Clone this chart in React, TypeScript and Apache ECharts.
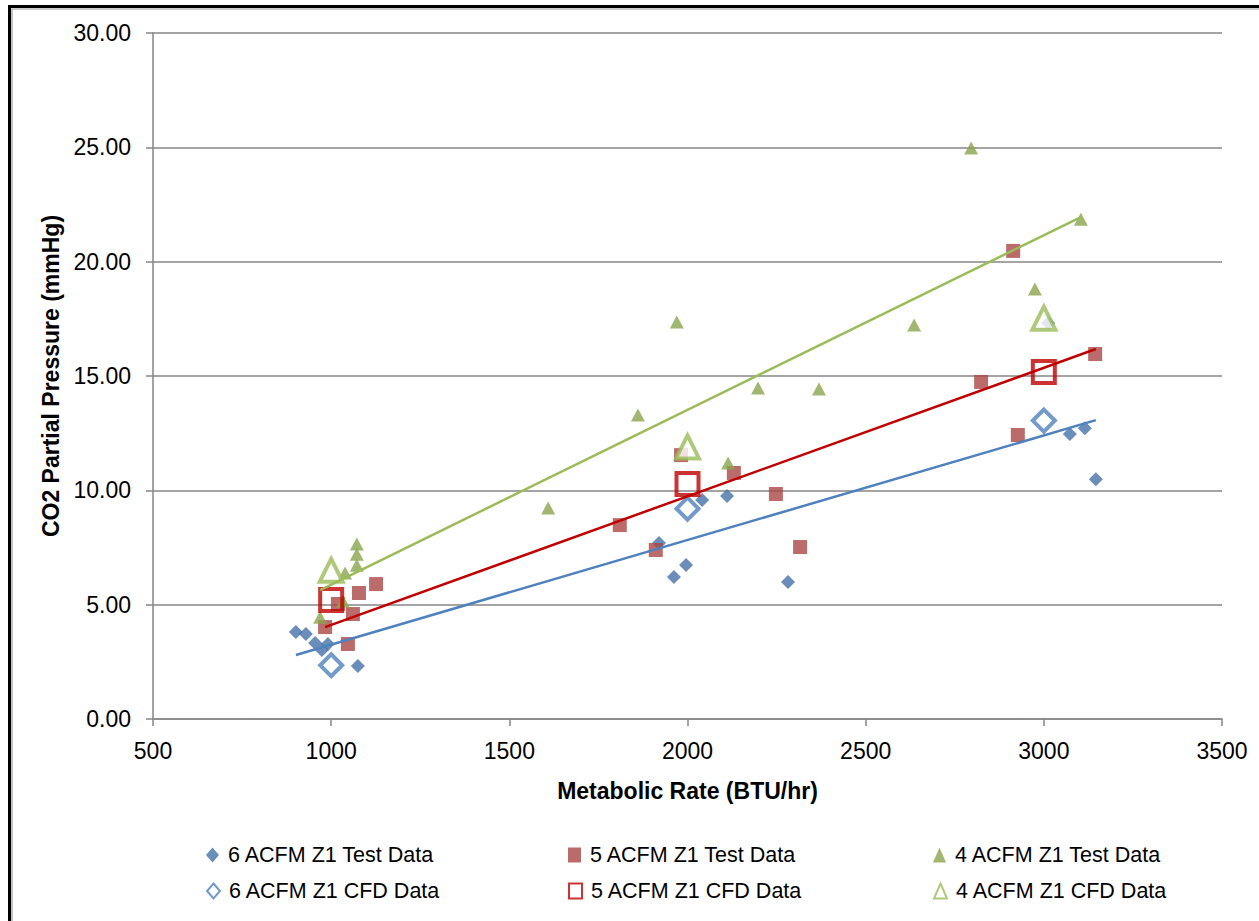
import React, { useEffect, useRef } from 'react';
import * as echarts from 'echarts';

// ---- data ----
const seriesNames = [
  '6 ACFM Z1 Test Data',
  '5 ACFM Z1 Test Data',
  '4 ACFM Z1 Test Data',
  '6 ACFM Z1 CFD Data',
  '5 ACFM Z1 CFD Data',
  '4 ACFM Z1 CFD Data',
];

const blueTestX = [901, 929, 955, 974, 991, 1075, 1920, 1962, 1996, 2041, 2111, 2282, 3012, 3073, 3115, 3146];
const blueTestY = [3.8, 3.72, 3.32, 3.02, 3.28, 2.32, 7.7, 6.21, 6.73, 9.58, 9.75, 5.99, 17.32, 12.46, 12.72, 10.49];

const redTestX = [983, 1019, 1047, 1061, 1078, 1126, 1810, 1911, 1982, 2130, 2248, 2316, 2824, 2914, 2927, 3144];
const redTestY = [4.02, 5.03, 3.28, 4.59, 5.51, 5.9, 8.48, 7.39, 11.54, 10.76, 9.84, 7.52, 14.74, 20.47, 12.42, 15.96];

const greenTestX = [969, 1033, 1039, 1072, 1072, 1072, 1609, 1861, 1970, 2114, 2198, 2369, 2636, 2796, 2975, 3104];
const greenTestY = [4.45, 5.15, 6.38, 7.65, 7.2, 6.72, 9.23, 13.29, 17.36, 11.19, 14.47, 14.43, 17.23, 24.97, 18.8, 21.86];

const cfdX = [1000, 2000, 3000];
const blueCfdY = [2.35, 9.2, 13.05];
const redCfdY = [5.2, 10.28, 15.17];
const greenCfdY = [6.5, 11.9, 17.53];

// trendline end points
const blueTrendX = [901, 3146];
const blueTrendY = [2.8, 13.07];
const redTrendX = [983, 3146];
const redTrendY = [4.02, 16.18];
const greenTrendX = [969, 3104];
const greenTrendY = [5.64, 21.95];

const xAxisMin = 500;
const xAxisMax = 3500;
const xAxisStep = 500;
const yAxisMin = 0;
const yAxisMax = 30;
const yAxisStep = 5;

const xTitle = 'Metabolic Rate (BTU/hr)';
const yTitle = 'CO2 Partial Pressure (mmHg)';

const zip = (xs: number[], ys: number[]) => xs.map((x, i) => [x, ys[i]]);

const FONT = '"Liberation Sans", Arial, sans-serif';

const BLUE = '#4572A7';
const RED = '#AA4643';
const GREEN = '#89A54E';
const BLUE_CFD = '#4F81BD';
const RED_CFD = '#C00000';
const GREEN_CFD = '#9BBB59';

export default function App() {
  const ref = useRef<HTMLDivElement>(null);

  useEffect(() => {
    document.body.style.margin = '0';
    if (!ref.current) return;
    const chart = echarts.init(ref.current, undefined, { renderer: 'svg' });

    const axisColor = '#868686';

    const legendPos = [
      { left: 206, top: 843 },
      { left: 568, top: 843 },
      { left: 933, top: 843 },
      { left: 206, top: 879 },
      { left: 568, top: 879 },
      { left: 933, top: 879 },
    ];

    const legends = seriesNames.map((name, i) => ({
      show: true,
      data: [name],
      left: legendPos[i].left,
      top: legendPos[i].top,
      orient: 'horizontal',
      padding: 0,
      itemWidth: 13,
      itemHeight: 15,
      itemGap: 0,
      selectedMode: false,
      textStyle: {
        fontFamily: FONT,
        fontSize: 21.5,
        color: '#000',
        lineHeight: 24,
        padding: [0, 0, 0, 4],
      },
    }));

    const option: any = {
      animation: false,
      backgroundColor: '#fff',
      grid: { left: 153, top: 33, width: 1069, height: 686, containLabel: false },
      legend: legends,
      graphic: [
        {
          type: 'rect',
          shape: { x: 9.5, y: 6.5, width: 1400, height: 1100 },
          style: { fill: 'none', stroke: '#000', lineWidth: 3 },
          silent: true,
          z: 100,
        },
        {
          type: 'rect',
          shape: { x: 12, y: 9, width: 1400, height: 1100 },
          style: { fill: 'none', stroke: '#9a9a9a', lineWidth: 1.2 },
          silent: true,
          z: 100,
        },
      ],
      xAxis: {
        type: 'value',
        min: xAxisMin,
        max: xAxisMax,
        interval: xAxisStep,
        axisLine: { show: true, lineStyle: { color: axisColor, width: 1.5 } },
        axisTick: { show: true, length: 7, inside: false, lineStyle: { color: axisColor, width: 1.5 } },
        splitLine: { show: false },
        axisLabel: {
          fontFamily: FONT,
          fontSize: 23,
          color: '#000',
          margin: 20,
          formatter: (v: number) => String(v),
        },
        name: xTitle,
        nameLocation: 'middle',
        nameGap: 60,
        nameTextStyle: { fontFamily: FONT, fontSize: 23, fontWeight: 'bold', color: '#000' },
      },
      yAxis: {
        type: 'value',
        min: yAxisMin,
        max: yAxisMax,
        interval: yAxisStep,
        axisLine: { show: true, lineStyle: { color: axisColor, width: 1.5 } },
        axisTick: { show: true, length: 7, inside: false, lineStyle: { color: axisColor, width: 1.5 } },
        splitLine: { show: true, lineStyle: { color: axisColor, width: 1.5 } },
        axisLabel: {
          fontFamily: FONT,
          fontSize: 23,
          color: '#000',
          margin: 22,
          formatter: (v: number) => v.toFixed(2),
        },
        name: yTitle,
        nameLocation: 'middle',
        nameGap: 88,
        nameTextStyle: { fontFamily: FONT, fontSize: 23, fontWeight: 'bold', color: '#000' },
      },
      series: [
        {
          name: seriesNames[0],
          type: 'scatter',
          symbol: 'diamond',
          symbolSize: 14,
          itemStyle: { color: BLUE },
          data: zip(blueTestX, blueTestY),
          z: 2,
        },
        {
          name: seriesNames[1],
          type: 'scatter',
          symbol: 'rect',
          symbolSize: 14,
          itemStyle: { color: RED },
          data: zip(redTestX, redTestY),
          z: 2,
        },
        {
          name: seriesNames[2],
          type: 'scatter',
          symbol: 'triangle',
          symbolSize: [14, 13],
          itemStyle: { color: GREEN },
          data: zip(greenTestX, greenTestY),
          z: 2,
        },
        {
          name: seriesNames[3],
          type: 'scatter',
          symbol: 'diamond',
          symbolSize: 22,
          itemStyle: { color: '#fff', borderColor: BLUE_CFD, borderWidth: 4 },
          data: zip(cfdX, blueCfdY),
          z: 3,
        },
        {
          name: seriesNames[4],
          type: 'scatter',
          symbol: 'rect',
          symbolSize: 22,
          itemStyle: { color: 'rgba(255,255,255,0)', borderColor: RED_CFD, borderWidth: 4 },
          data: zip(cfdX, redCfdY),
          z: 3,
        },
        {
          name: seriesNames[5],
          type: 'scatter',
          symbol: 'triangle',
          symbolSize: 23,
          itemStyle: { color: '#fff', borderColor: GREEN_CFD, borderWidth: 4 },
          data: zip(cfdX, greenCfdY),
          z: 3,
        },
        {
          name: 'blue trend',
          type: 'line',
          data: zip(blueTrendX, blueTrendY),
          showSymbol: false,
          symbol: 'none',
          silent: true,
          lineStyle: { color: BLUE_CFD, width: 2.5 },
          z: 4,
        },
        {
          name: 'red trend',
          type: 'line',
          data: zip(redTrendX, redTrendY),
          showSymbol: false,
          symbol: 'none',
          silent: true,
          lineStyle: { color: RED_CFD, width: 2.5 },
          z: 4,
        },
        {
          name: 'green trend',
          type: 'line',
          data: zip(greenTrendX, greenTrendY),
          showSymbol: false,
          symbol: 'none',
          silent: true,
          lineStyle: { color: GREEN_CFD, width: 2.5 },
          z: 4,
        },
      ],
    };

    chart.setOption(option);
    return () => chart.dispose();
  }, []);

  return <div ref={ref} style={{ width: 1259, height: 921 }} />;
}
